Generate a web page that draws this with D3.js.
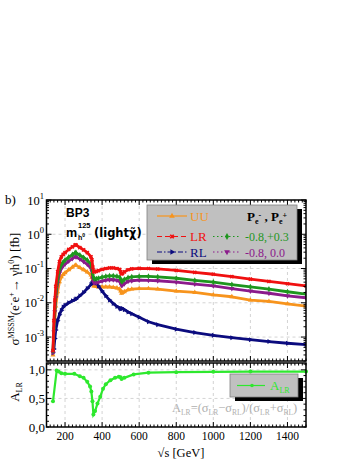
<!DOCTYPE html>
<html><head><meta charset="utf-8">
<script src="https://cdn.jsdelivr.net/npm/d3@7/dist/d3.min.js"></script>
<style>html,body{margin:0;padding:0;background:#fff}svg{display:block}</style>
</head><body>
<svg id="c" width="357" height="462"></svg>
<script>
// ---------- data ----------
const sqrtS = [135,140,145,150,160,170,180,190,200,220,240,255,260,280,300,320,340,345,350,355,360,370,380,400,420,440,460,480,495,500,505,510,520,540,560,600,650,700,800,900,1000,1100,1200,1300,1400,1500];
const sigmaUU = [3e-4,1e-3,3.2e-3,8e-3,0.021,0.041,0.057,0.067,0.075,0.092,0.11,0.125,0.124,0.106,0.092,0.079,0.064,0.055,0.038,0.031,0.031,0.030,0.029,0.029,0.029,0.029,0.028,0.027,0.025,0.022,0.019,0.020,0.021,0.024,0.025,0.026,0.026,0.025,0.022,0.020,0.017,0.015,0.012,0.011,0.0093,0.008];
const sigmaLR = [4e-4,3e-3,0.012,0.03,0.08,0.16,0.22,0.26,0.29,0.36,0.43,0.49,0.48,0.41,0.35,0.29,0.22,0.18,0.11,0.082,0.080,0.083,0.087,0.094,0.10,0.104,0.104,0.100,0.094,0.080,0.070,0.072,0.080,0.092,0.098,0.101,0.100,0.097,0.088,0.077,0.068,0.058,0.049,0.042,0.036,0.031];
const sigmaRL = [3.5e-4,4.5e-4,9e-4,1.6e-3,3e-3,4.5e-3,6e-3,7.5e-3,8.5e-3,1.0e-2,1.15e-2,1.25e-2,1.3e-2,1.6e-2,2.0e-2,2.6e-2,3.4e-2,3.7e-2,4.0e-2,4.3e-2,4.4e-2,3.8e-2,3.1e-2,2.2e-2,1.6e-2,1.2e-2,9.5e-3,7.8e-3,7.0e-3,6.6e-3,6.8e-3,6.8e-3,6.3e-3,5.4e-3,4.8e-3,3.8e-3,2.8e-3,2.3e-3,1.7e-3,1.35e-3,1.12e-3,9.6e-4,8.4e-4,7.4e-4,6.6e-4,6e-4];
const sigmaP83 = [4e-4,1.8e-3,0.007,0.018,0.048,0.095,0.13,0.155,0.175,0.215,0.255,0.29,0.285,0.245,0.21,0.175,0.135,0.11,0.068,0.052,0.050,0.050,0.052,0.056,0.059,0.061,0.061,0.059,0.056,0.048,0.042,0.043,0.048,0.054,0.057,0.059,0.059,0.057,0.052,0.045,0.040,0.034,0.029,0.025,0.021,0.018];
const sigmaP80 = [3.5e-4,1.4e-3,0.0055,0.014,0.037,0.073,0.10,0.12,0.134,0.165,0.195,0.222,0.218,0.188,0.16,0.133,0.102,0.083,0.052,0.039,0.038,0.039,0.040,0.043,0.046,0.047,0.047,0.045,0.043,0.037,0.032,0.033,0.036,0.042,0.044,0.046,0.045,0.044,0.040,0.035,0.031,0.026,0.022,0.019,0.016,0.014];
const aSqrtS = [135,155,165,180,200,250,280,300,320,335,342,348,353,362,375,390,405,420,445,470,490,500,505,520,570,650,800,1000,1200,1500];
const aLR    = [0.45,0.99,0.97,0.94,0.93,0.93,0.89,0.86,0.79,0.71,0.62,0.45,0.22,0.28,0.41,0.53,0.67,0.75,0.82,0.86,0.88,0.87,0.84,0.86,0.92,0.95,0.96,0.965,0.97,0.97];
const xTicks = [200,400,600,800,1000,1200,1400];
const yTopTicks = [1e-3,1e-2,1e-1,1,10];
const yTopExp = ["-3","-2","-1","0","1"];
const yBotTicks = [0,0.5,1.0];
const yBotLabels = ["0,0","0,5","1,0"];
const legendNames = ["UU","LR","RL"];
const legendPol = ["-0.8,+0.3","-0.8, 0.0"];

// ---------- setup ----------
const svg = d3.select("#c");
const SERIF = "'Liberation Serif','Times New Roman',serif";
const SANS = "'Liberation Sans',Arial,sans-serif";
const L = 46.5, R = 306, T1 = 200, B1 = 361, T2 = 363, B2 = 427;
const x = d3.scaleLinear().domain([100,1500]).range([L,R]);
const yT = d3.scaleLog().domain([2e-4,10]).range([B1,T1]);
const yB = d3.scaleLinear().domain([0,1.12]).range([B2,T2]);

function rich(t, parts){
  let cur = 0;
  parts.forEach(p=>{
    const off = p.off||0;
    const ts = t.append("tspan").attr("dy", off-cur).text(p.t);
    if(p.fs) ts.attr("font-size", p.fs);
    if(p.fw) ts.attr("font-weight", p.fw);
    cur = off;
  });
}

// grid
const grid = svg.append("g").attr("stroke","#c8c8c8").attr("stroke-width",0.8).attr("stroke-dasharray","3,3");
xTicks.forEach(v=>{
  grid.append("line").attr("x1",x(v)).attr("x2",x(v)).attr("y1",T1).attr("y2",B1);
  grid.append("line").attr("x1",x(v)).attr("x2",x(v)).attr("y1",T2).attr("y2",B2);
});
yTopTicks.forEach(v=>grid.append("line").attr("x1",L).attr("x2",R).attr("y1",yT(v)).attr("y2",yT(v)));
[0.5,1.0].forEach(v=>grid.append("line").attr("x1",L).attr("x2",R).attr("y1",yB(v)).attr("y2",yB(v)));

// ---------- top panel curves ----------
const series = [
  {v:sigmaUU, c:"#f7941d", sym:d3.symbolTriangle, rot:0},
  {v:sigmaRL, c:"#0b0b7e", sym:d3.symbolTriangle, rot:90},
  {v:sigmaP80, c:"#8b1a8b", sym:d3.symbolTriangle, rot:180},
  {v:sigmaP83, c:"#1e961e", sym:d3.symbolDiamond, rot:0},
  {v:sigmaLR, c:"#f01010", sym:d3.symbolCross, rot:45}
];
svg.append("clipPath").attr("id","clipT").append("rect").attr("x",L).attr("y",T1).attr("width",R-L).attr("height",B1-T1);
const gT = svg.append("g").attr("clip-path","url(#clipT)");
const lineT = d3.line().x((d,i)=>x(sqrtS[i])).y(d=>yT(d));
series.forEach(s=>{
  gT.append("path").attr("d",lineT(s.v)).attr("fill","none").attr("stroke",s.c).attr("stroke-width",2.8).attr("stroke-linejoin","round");
  gT.selectAll(null).data(s.v).enter().append("path")
    .attr("d",d3.symbol().type(s.sym).size(11))
    .attr("transform",(d,i)=>`translate(${x(sqrtS[i])},${yT(d)}) rotate(${s.rot})`)
    .attr("fill",s.c);
});

// ---------- bottom panel curve ----------
const lineB = d3.line().x((d,i)=>x(aSqrtS[i])).y(d=>yB(d));
svg.append("path").attr("d",lineB(aLR)).attr("fill","none").attr("stroke","#2ee82e").attr("stroke-width",2.2);
svg.selectAll(null).data(aLR).enter().append("circle")
  .attr("cx",(d,i)=>x(aSqrtS[i])).attr("cy",d=>yB(d)).attr("r",2).attr("fill","#2ee82e");

// ---------- frames & ticks ----------
function frame(top,bottom,yScale,isLog){
  svg.append("rect").attr("x",L).attr("y",top).attr("width",R-L).attr("height",bottom-top)
    .attr("fill","none").attr("stroke","#000").attr("stroke-width",1.5);
  const tg = svg.append("g").attr("stroke","#000").attr("stroke-width",1);
  const minorX = d3.range(100,1501,20);
  minorX.forEach(v=>{
    const big = xTicks.includes(v);
    const len = big?5:2.5;
    tg.append("line").attr("x1",x(v)).attr("x2",x(v)).attr("y1",bottom).attr("y2",bottom-len);
    tg.append("line").attr("x1",x(v)).attr("x2",x(v)).attr("y1",top).attr("y2",top+len);
  });
  let ys;
  if(isLog){
    ys = [];
    [1e-4,1e-3,1e-2,1e-1,1].forEach(d=>{for(let k=1;k<10;k++){const v=d*k; if(v>=2e-4&&v<=10) ys.push({v,big:k===1});}});
    ys.push({v:10,big:true});
  } else {
    ys = d3.range(0,1.12,0.1).map(v=>({v,big:Math.abs(v-0.5)<1e-6||Math.abs(v-1)<1e-6}));
  }
  ys.forEach(o=>{
    const len = o.big?5:2.5, yy=yScale(o.v);
    tg.append("line").attr("x1",L).attr("x2",L+len).attr("y1",yy).attr("y2",yy);
    tg.append("line").attr("x1",R).attr("x2",R-len).attr("y1",yy).attr("y2",yy);
  });
}
frame(T1,B1,yT,true);
frame(T2,B2,yB,false);

// ---------- tick labels ----------
yTopTicks.forEach((v,i)=>{
  const t = svg.append("text").attr("x",44).attr("y",yT(v)+4.5).attr("text-anchor","end").attr("font-family",SERIF).attr("font-size",12.5);
  rich(t,[{t:"10"},{t:yTopExp[i],off:-6,fs:8.5}]);
});
yBotTicks.forEach((v,i)=>{
  svg.append("text").attr("x",45).attr("y",yB(v)+4.5).attr("text-anchor","end")
    .attr("font-family",SERIF).attr("font-size",13).text(yBotLabels[i]);
});
xTicks.forEach(v=>{
  svg.append("text").attr("x",x(v)).attr("y",440).attr("text-anchor","middle")
    .attr("font-family",SERIF).attr("font-size",11.5).text(v);
});

// ---------- titles ----------
svg.append("text").attr("x",181).attr("y",457).attr("text-anchor","middle")
  .attr("font-family",SERIF).attr("font-size",12.5).text("√s [GeV]");
{
  const t = svg.append("text").attr("transform","translate(19,289) rotate(-90)").attr("text-anchor","middle")
    .attr("font-family",SERIF).attr("font-size",13);
  rich(t,[{t:"σ"},{t:"MSSM",off:-5,fs:8},{t:"(e"},{t:"-",off:-5,fs:8},{t:"e"},{t:"+",off:-5,fs:8},{t:"→ γh"},{t:"0",off:-5,fs:8},{t:") [fb]"}]);
}
{
  const t = svg.append("text").attr("transform","translate(19,392) rotate(-90)").attr("text-anchor","middle")
    .attr("font-family",SERIF).attr("font-size",13);
  rich(t,[{t:"A"},{t:"LR",off:3,fs:8}]);
}
svg.append("text").attr("x",5).attr("y",204).attr("font-family",SERIF).attr("font-size",13).text("b)");
svg.append("text").attr("x",66).attr("y",217).attr("font-family",SANS).attr("font-weight","bold").attr("font-size",12).text("BP3");
svg.append("text").attr("x",66).attr("y",237).attr("font-family",SANS).attr("font-weight","bold").attr("font-size",12.5).text("m");
svg.append("text").attr("x",78).attr("y",228).attr("font-family",SANS).attr("font-weight","bold").attr("font-size",7.5).text("125");
{
  const t = svg.append("text").attr("x",78).attr("y",240).attr("font-family",SANS).attr("font-weight","bold").attr("font-size",7);
  rich(t,[{t:"h"},{t:"0",off:-3,fs:5}]);
}
svg.append("text").attr("x",94).attr("y",237).attr("font-family","'DejaVu Sans',sans-serif").attr("font-weight","bold").attr("font-size",11.5).text("(light\u03C7\u0303)");

// ---------- top legend ----------
svg.append("rect").attr("x",152).attr("y",209).attr("width",150).attr("height",55).attr("fill","#000");
svg.append("rect").attr("x",147).attr("y",205).attr("width",150).attr("height",55).attr("fill","#c0c0c0").attr("stroke","#808080").attr("stroke-width",0.8);
const legRows = [
  {c:"#f7941d", dash:null, sym:d3.symbolTriangle, rot:0, y:216, name:legendNames[0]},
  {c:"#f01010", dash:"5,3", sym:d3.symbolCross, rot:45, y:236.5, name:legendNames[1]},
  {c:"#0b0b7e", dash:"5,2,1.5,2", sym:d3.symbolTriangle, rot:90, y:252, name:legendNames[2]}
];
legRows.forEach(r=>{
  svg.append("line").attr("x1",157).attr("x2",187).attr("y1",r.y).attr("y2",r.y).attr("stroke",r.c).attr("stroke-width",1.2).attr("stroke-dasharray",r.dash);
  svg.append("path").attr("d",d3.symbol().type(r.sym).size(14)).attr("transform",`translate(172,${r.y}) rotate(${r.rot})`).attr("fill",r.c);
  svg.append("text").attr("x",190).attr("y",r.y+4.5).attr("font-family",SERIF).attr("font-size",13).attr("fill",r.c).text(r.name);
});
const polRows = [
  {c:"#1e961e", sym:d3.symbolDiamond, rot:0, y:236.5, name:legendPol[0]},
  {c:"#8b1a8b", sym:d3.symbolTriangle, rot:180, y:252, name:legendPol[1]}
];
polRows.forEach(r=>{
  svg.append("line").attr("x1",213).attr("x2",241).attr("y1",r.y).attr("y2",r.y).attr("stroke",r.c).attr("stroke-width",1.2).attr("stroke-dasharray","1.5,2.5");
  svg.append("path").attr("d",d3.symbol().type(r.sym).size(14)).attr("transform",`translate(227,${r.y}) rotate(${r.rot})`).attr("fill",r.c);
  svg.append("text").attr("x",245).attr("y",r.y+4.5).attr("font-family",SERIF).attr("font-size",12).attr("fill",r.c).text(r.name);
});
{
  const t = svg.append("text").attr("x",247).attr("y",221).attr("font-family",SERIF).attr("font-weight","bold").attr("font-size",13);
  rich(t,[{t:"P"},{t:"e",off:3,fs:8},{t:"-",off:-3,fs:8},{t:" , P"},{t:"e",off:3,fs:8},{t:"+",off:-3,fs:8}]);
}

// ---------- bottom legend ----------
svg.append("rect").attr("x",235).attr("y",378).attr("width",68).attr("height",23).attr("fill","#000");
svg.append("rect").attr("x",230).attr("y",374).attr("width",68).attr("height",23).attr("fill","#c0c0c0").attr("stroke","#808080").attr("stroke-width",0.8);
svg.append("line").attr("x1",237).attr("x2",265).attr("y1",385.5).attr("y2",385.5).attr("stroke","#2ee82e").attr("stroke-width",1.2);
svg.append("circle").attr("cx",252).attr("cy",385.5).attr("r",1.8).attr("fill","#2ee82e");
{
  const t = svg.append("text").attr("x",270).attr("y",390).attr("font-family",SERIF).attr("font-size",13).attr("fill","#2ee82e");
  rich(t,[{t:"A"},{t:"LR",off:3,fs:8}]);
}
{
  const t = svg.append("text").attr("x",172).attr("y",412).attr("font-family",SERIF).attr("font-size",12.5).attr("fill","#b0b0b0");
  rich(t,[{t:"A"},{t:"LR",off:3,fs:7.5},{t:"=(σ"},{t:"LR",off:3,fs:7.5},{t:"−σ"},{t:"RL",off:3,fs:7.5},{t:")/(σ"},{t:"LR",off:3,fs:7.5},{t:"+σ"},{t:"RL",off:3,fs:7.5},{t:")"}]);
}
</script>
</body></html>
